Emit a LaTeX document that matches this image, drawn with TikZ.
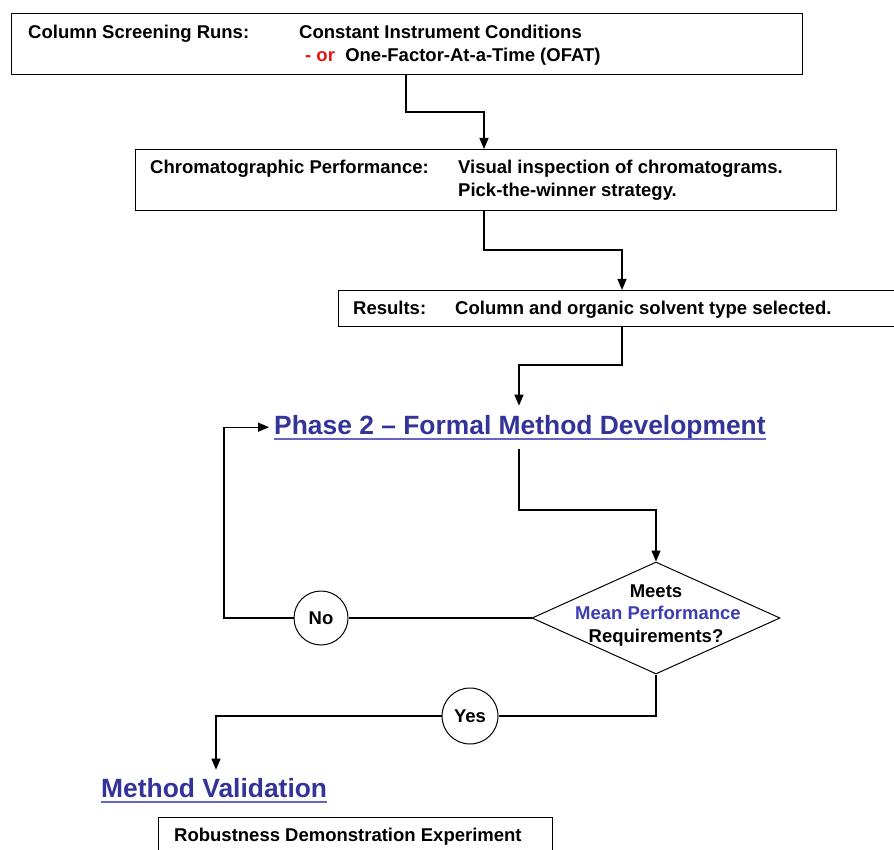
\documentclass[tikz,border=0pt]{standalone}
\usepackage{fontspec}
\setmainfont{Liberation Sans}
\usetikzlibrary{shapes.geometric,arrows.meta,calc}
\definecolor{hblue}{RGB}{51,51,153}
\definecolor{ublue}{RGB}{100,100,200}
\definecolor{mblue}{RGB}{60,60,180}
\definecolor{ored}{RGB}{230,20,20}
\begin{document}
\begin{tikzpicture}[x=1pt,y=-1pt,
  box/.style={draw,line width=1pt,inner sep=0,anchor=north west},
  txt/.style={anchor=base west,inner sep=0,font=\bfseries\fontsize{18.5}{22}\selectfont},
  head/.style={anchor=base west,inner xsep=0,text=hblue,font=\bfseries\fontsize{26.4}{30}\selectfont},
  conn/.style={line width=1.3pt},
  arr/.style={conn,-{Triangle[length=11pt,width=9pt]}},
  circ/.style={circle,draw,line width=1pt,fill=white,inner sep=0,font=\bfseries\fontsize{18.5}{22}\selectfont},
  dec/.style={diamond,draw,line width=1pt,inner sep=0,minimum width=248,minimum height=112,aspect=2.2}]
\clip (0,0) rectangle (894,850);
\fill[white] (0,0) rectangle (894,850);

% boxes
\node[box,minimum width=791,minimum height=61] (b1) at (11,13) {};
\node[txt] (t1a) at (28,39) {Column Screening Runs:};
\node[txt] (t1b) at (299,39) {Constant Instrument Conditions};
\node[txt] (t1c) at (305,62) {\textcolor{ored}{- or}\ \ One-Factor-At-a-Time (OFAT)};

\node[box,minimum width=701,minimum height=61] (b2) at (135,149) {};
\node[txt] (t2a) at (150,174) {Chromatographic Performance:};
\node[txt] (t2b) at (458,174) {Visual inspection of chromatograms.};
\node[txt] (t2c) at (458,197) {Pick-the-winner strategy.};

\node[box,minimum width=580,minimum height=36] (b3) at (338,290) {};
\node[txt] (t3a) at (353,314) {Results:};
\node[txt] (t3b) at (455,314) {Column and organic solvent type selected.};

% headings
\node[head,inner ysep=9pt] (ph) at (274,434) {Phase 2 -- Formal Method Development};
\draw[ublue,line width=1.2pt] ($(ph.base west)+(0,5)$) -- ($(ph.base east)+(0,5)$);
\node[head,inner ysep=8pt] (mv) at (101,797) {Method Validation};
\draw[ublue,line width=1.2pt] ($(mv.base west)+(0,5)$) -- ($(mv.base east)+(0,5)$);

\node[box,minimum width=394,minimum height=60] (b4) at (158,817) {};
\node[txt] (t4) at (174,841) {Robustness Demonstration Experiment};

% decision
\node[dec] (dia) at (656,618) {};
\node[txt,anchor=base] (d1) at (656,597) {Meets};
\node[txt,anchor=base,text=mblue] (d2) at (658,619) {Mean Performance};
\node[txt,anchor=base] (d3) at (656,642) {Requirements?};

\node[circ,minimum size=54] (no) at (321,618) {No};
\node[circ,minimum size=56] (yes) at (470,716) {Yes};

% connectors
\coordinate (j1) at (406,112);
\coordinate (j2) at (484,112);
\draw[arr] (b1.south -| j1) -- (j1) -- (j2) -- (b2.north -| j2);
\coordinate (j3) at (484,250);
\coordinate (j4) at (622,250);
\draw[arr] (b2.south -| j3) -- (j3) -- (j4) -- (b3.north -| j4);
\coordinate (j5) at (622,365);
\coordinate (j6) at (519,365);
\draw[arr] (b3.south -| j5) -- (j5) -- (j6) -- (ph.north -| j6);
\coordinate (j7) at (519,510);
\coordinate (j8) at (656,510);
\draw[arr] (ph.south -| j7) -- (j7) -- (j8) -- (dia.north);
\coordinate (k1) at (224,618);
\draw[conn] (dia.west) -- (no.east);
\draw[arr,shorten >=5pt] (no.west) -- (k1) |- (ph.west);
\coordinate (k2) at (656,716);
\coordinate (k3) at (216,716);
\draw[conn] (dia.south) -- (k2) -- (yes.east);
\draw[arr] (yes.west) -- (k3) -- (mv.north -| k3);
\end{tikzpicture}
\end{document}
